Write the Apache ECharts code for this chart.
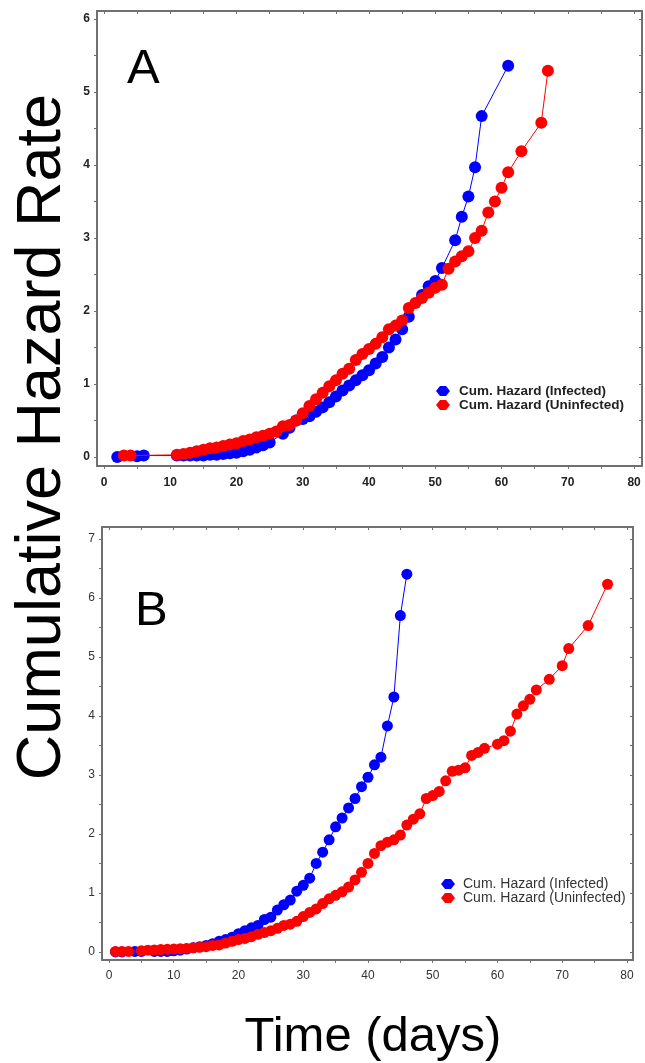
<!DOCTYPE html>
<html>
<head>
<meta charset="utf-8">
<script src="https://cdn.jsdelivr.net/npm/echarts@6/dist/echarts.min.js"></script>
<style>
  html, body { margin: 0; padding: 0; background: #fff; }
  #chart { width: 645px; height: 1063px; }
</style>
</head>
<body>
<div id="chart"></div>
<script>
// panel A
const daysInfA = [2, 5, 6, 11, 12, 13, 14, 15, 16, 17, 18, 19, 20, 21, 22, 23, 24, 25, 27, 28, 29, 30, 31, 32, 33, 34, 35, 36, 37, 38, 39, 40, 41, 42, 43, 44, 45, 46, 48, 49, 50, 51, 53, 54, 55, 56, 57, 61]
const hazInfA = [0.0, 0.01, 0.02, 0.02, 0.02, 0.02, 0.02, 0.02, 0.03, 0.03, 0.04, 0.05, 0.06, 0.08, 0.1, 0.13, 0.16, 0.2, 0.32, 0.4, 0.5, 0.52, 0.56, 0.62, 0.68, 0.75, 0.83, 0.91, 0.98, 1.05, 1.12, 1.19, 1.28, 1.37, 1.5, 1.61, 1.75, 1.92, 2.22, 2.34, 2.41, 2.59, 2.97, 3.29, 3.57, 3.97, 4.67, 5.36]
const daysUninfA = [3, 4, 11, 12, 13, 14, 15, 16, 17, 18, 19, 20, 21, 22, 23, 24, 25, 26, 27, 28, 29, 30, 31, 32, 33, 34, 35, 36, 37, 38, 39, 40, 41, 42, 43, 44, 45, 46, 47, 48, 49, 50, 51, 52, 53, 54, 55, 56, 57, 58, 59, 60, 61, 63, 66, 67]
const hazUninfA = [0.02, 0.02, 0.03, 0.04, 0.06, 0.08, 0.1, 0.12, 0.13, 0.15, 0.17, 0.19, 0.22, 0.24, 0.27, 0.29, 0.32, 0.35, 0.42, 0.44, 0.5, 0.6, 0.7, 0.79, 0.88, 0.97, 1.05, 1.14, 1.21, 1.33, 1.41, 1.48, 1.55, 1.64, 1.75, 1.8, 1.87, 2.04, 2.11, 2.18, 2.25, 2.32, 2.36, 2.58, 2.68, 2.75, 2.82, 3.0, 3.1, 3.35, 3.5, 3.69, 3.9, 4.19, 4.58, 5.29]

// panel B
const daysInfB = [1, 2, 4, 5, 7, 8, 9, 10, 11, 12, 13, 14, 15, 16, 17, 18, 19, 20, 21, 22, 23, 24, 25, 26, 27, 28, 29, 30, 31, 32, 33, 34, 35, 36, 37, 38, 39, 40, 41, 42, 43, 44, 45, 46]
const hazInfB = [0.0, 0.0, 0.01, 0.01, 0.01, 0.01, 0.01, 0.02, 0.03, 0.05, 0.07, 0.09, 0.11, 0.14, 0.18, 0.21, 0.25, 0.31, 0.36, 0.41, 0.45, 0.55, 0.59, 0.71, 0.8, 0.88, 1.03, 1.13, 1.25, 1.5, 1.69, 1.9, 2.12, 2.27, 2.44, 2.6, 2.8, 2.96, 3.17, 3.3, 3.83, 4.32, 5.7, 6.4]
const daysUninfB = [1, 2, 3, 5, 6, 7, 8, 9, 10, 11, 12, 13, 14, 15, 16, 17, 18, 19, 20, 21, 22, 23, 24, 25, 26, 27, 28, 29, 30, 31, 32, 33, 34, 35, 36, 37, 38, 39, 40, 41, 42, 43, 44, 45, 46, 47, 48, 49, 50, 51, 52, 53, 54, 55, 56, 57, 58, 60, 61, 62, 63, 64, 65, 66, 68, 70, 71, 74, 77]
const hazUninfB = [0.01, 0.01, 0.01, 0.02, 0.03, 0.035, 0.04, 0.045, 0.05, 0.055, 0.06, 0.07, 0.08, 0.09, 0.11, 0.12, 0.15, 0.18, 0.21, 0.23, 0.26, 0.3, 0.33, 0.36, 0.4, 0.45, 0.47, 0.52, 0.6, 0.67, 0.73, 0.82, 0.9, 0.96, 1.02, 1.1, 1.22, 1.35, 1.5, 1.67, 1.8, 1.86, 1.9, 1.98, 2.15, 2.25, 2.34, 2.6, 2.65, 2.72, 2.9, 3.06, 3.08, 3.12, 3.33, 3.38, 3.45, 3.52, 3.58, 3.74, 4.03, 4.17, 4.28, 4.44, 4.62, 4.85, 5.14, 5.53, 6.23]

const xTicks = [0, 5, 10, 15, 20, 25, 30, 35, 40, 45, 50, 55, 60, 65, 70, 75, 80]
const xLabels = [0, 10, 20, 30, 40, 50, 60, 70, 80]
const yTicksA = [0, 0.5, 1, 1.5, 2, 2.5, 3, 3.5, 4, 4.5, 5, 5.5, 6]
const yLabelsA = [0, 1, 2, 3, 4, 5, 6]
const yTicksB = [0, 0.5, 1, 1.5, 2, 2.5, 3, 3.5, 4, 4.5, 5, 5.5, 6, 6.5, 7]
const yLabelsB = [0, 1, 2, 3, 4, 5, 6, 7]

const nameInf = 'Cum. Hazard (Infected)'
const nameUninf = 'Cum. Hazard (Uninfected)'

const FONT = 'Liberation Sans, Arial, sans-serif'
const frameColor = '#707070'
const markIcon = 'path://M4,0 L10,0 L14,5 L10,10 L4,10 L0,5 Z'

const pairs = (xs, ys) => xs.map((d, i) => [d, ys[i]])

function axisPair(gridIndex, min, max, ticks, labels, bold, isX) {
  const labelStyle = {
    customValues: labels,
    fontFamily: FONT,
    fontSize: 12,
    fontWeight: bold ? 'bold' : 'normal',
    color: bold ? '#222' : '#333',
    margin: isX ? (bold ? 11 : 10) : 7,
  }
  const line = { show: true, onZero: false, lineStyle: { color: frameColor, width: 2 } }
  const main = {
    type: 'value', gridIndex, min, max,
    position: isX ? 'bottom' : 'left',
    axisLine: line,
    splitLine: { show: false },
    axisTick: { show: true, customValues: ticks, length: 3, lineStyle: { color: frameColor } },
    axisLabel: labelStyle,
  }
  const mirror = {
    type: 'value', gridIndex, min, max,
    position: isX ? 'top' : 'right',
    axisLine: line,
    splitLine: { show: false },
    axisTick: { show: true, inside: true, customValues: ticks, length: 3, lineStyle: { color: frameColor } },
    axisLabel: { show: false },
  }
  return [main, mirror]
}

function lineSeries(name, data, color, xi, yi, size) {
  return {
    name, type: 'line', data,
    xAxisIndex: xi, yAxisIndex: yi,
    symbol: 'circle', symbolSize: size,
    showSymbol: true,
    lineStyle: { color, width: 1 },
    itemStyle: { color },
    z: name === nameUninf ? 3 : 2,
  }
}

const chart = echarts.init(document.getElementById('chart'))
chart.setOption({
  animation: false,
  backgroundColor: '#fff',
  grid: [
    { left: 97, top: 11, width: 545, height: 455 },
    { left: 102, top: 527, width: 531, height: 433 },
  ],
  xAxis: [
    ...axisPair(0, -1.06, 81.2, xTicks, xLabels, true, true),
    ...axisPair(1, -1.08, 80.93, xTicks, xLabels, false, true),
  ],
  yAxis: [
    ...axisPair(0, -0.123, 6.11, yTicksA, yLabelsA, true, false),
    ...axisPair(1, -0.136, 7.2, yTicksB, yLabelsB, false, false),
  ],
  legend: [
    {
      data: [nameInf, nameUninf],
      orient: 'vertical', left: 436, top: 384,
      itemWidth: 14, itemHeight: 10, itemGap: 0,
      icon: markIcon,
      textStyle: { fontFamily: FONT, fontSize: 13.5, lineHeight: 13, fontWeight: 'bold', color: '#222', padding: [0, 0, 0, 4] },
      padding: 0,
    },
    {
      data: [nameInf, nameUninf],
      orient: 'vertical', left: 441, top: 877,
      itemWidth: 14, itemHeight: 10, itemGap: 0,
      icon: markIcon,
      textStyle: { fontFamily: FONT, fontSize: 14, lineHeight: 12, color: '#333', padding: [0, 0, 0, 3] },
      padding: 0,
    },
  ],
  graphic: [
    { type: 'text', left: 127, top: 45, style: { text: 'A', font: '49px ' + FONT, fill: '#000' } },
    { type: 'text', left: 135, top: 587, style: { text: 'B', font: '49px ' + FONT, fill: '#000' } },
    {
      type: 'text', x: 11, y: 437, rotation: Math.PI / 2,
      style: { text: 'Cumulative Hazard Rate', font: '63px ' + FONT, fill: '#000', align: 'center', verticalAlign: 'top' },
    },
    {
      type: 'text', x: 373, y: 1037,
      style: { text: 'Time (days)', font: '49px ' + FONT, fill: '#000', align: 'center', verticalAlign: 'middle' },
    },
  ],
  series: [
    lineSeries(nameInf, pairs(daysInfA, hazInfA), '#0000ff', 0, 0, 12),
    lineSeries(nameUninf, pairs(daysUninfA, hazUninfA), '#ff0000', 0, 0, 12),
    lineSeries(nameInf, pairs(daysInfB, hazInfB), '#0000ff', 2, 2, 11),
    lineSeries(nameUninf, pairs(daysUninfB, hazUninfB), '#ff0000', 2, 2, 11),
  ],
})
</script>
</body>
</html>
